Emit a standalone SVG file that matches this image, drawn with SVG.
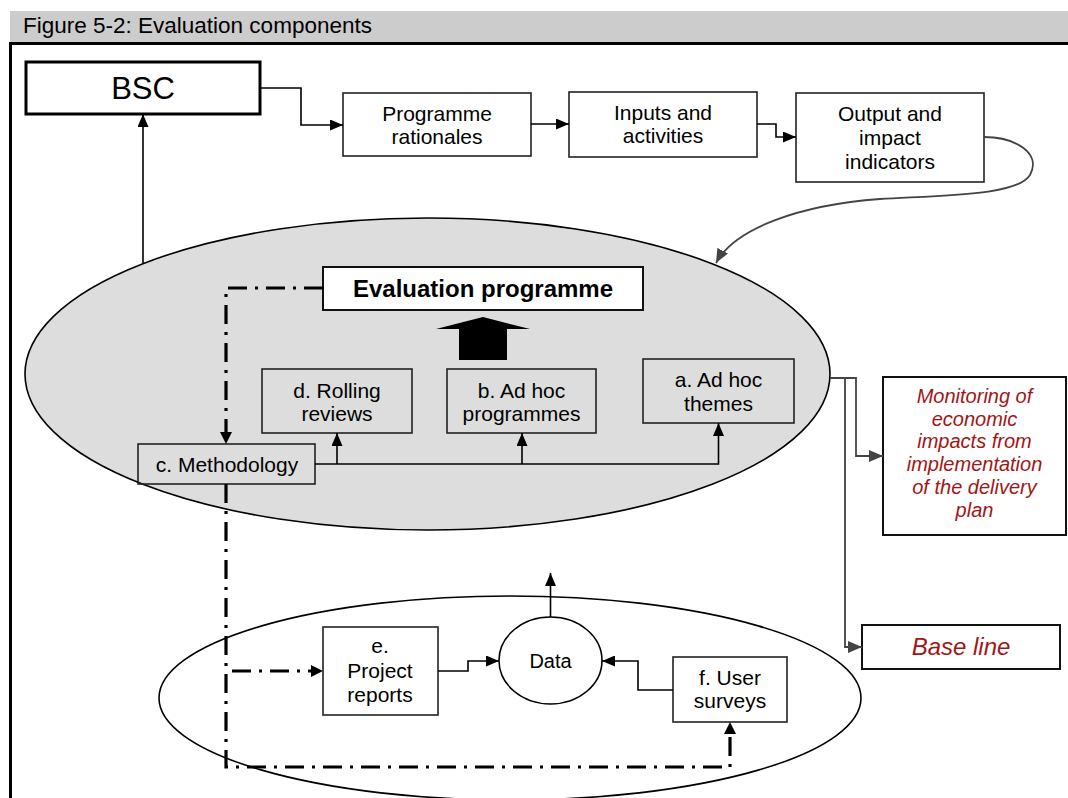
<svg xmlns="http://www.w3.org/2000/svg" width="1068" height="798" viewBox="0 0 1068 798">
<style>
text{font-family:"Liberation Sans",Arial,sans-serif;fill:#000}
.t21{font-size:21px;text-anchor:middle}
.red{fill:#a31515;font-style:italic;text-anchor:middle}
.box{fill:none;stroke:#222;stroke-width:1.6}
.wbox{fill:#fff;stroke:#111;stroke-width:2}
.ln{fill:none;stroke:#000;stroke-width:1.6}
.gl{fill:none;stroke:#444;stroke-width:1.8}
.dd{fill:none;stroke:#000;stroke-width:3.2;stroke-dasharray:19 8 3 8}
</style>
<defs>
<marker id="ah" viewBox="0 0 13 11" refX="13" refY="5.5" markerWidth="13" markerHeight="11" orient="auto" markerUnits="userSpaceOnUse"><path d="M0,0 L13,5.5 L0,11 z" fill="#000"/></marker>
<marker id="ag" viewBox="0 0 14 12" refX="14" refY="6" markerWidth="14" markerHeight="12" orient="auto" markerUnits="userSpaceOnUse"><path d="M0,0 L14,6 L0,12 z" fill="#444"/></marker>
</defs>

<g id="frame">
<rect x="10" y="11" width="1058" height="31" fill="#cccccc"/>
<text x="23" y="33" font-size="22.5">Figure 5-2: Evaluation components</text>
<line x1="9" y1="43.5" x2="1068" y2="43.5" stroke="#000" stroke-width="3"/>
<line x1="10.5" y1="43" x2="10.5" y2="798" stroke="#000" stroke-width="3"/>
</g>

<g id="eval-ellipse">
<ellipse cx="427.5" cy="374" rx="402.5" ry="156" fill="#dddddd" stroke="#000" stroke-width="1.6"/>
</g>
<g id="data-ellipse">
<ellipse cx="510" cy="698" rx="351" ry="102" fill="#fff" stroke="#000" stroke-width="1.6"/>
</g>

<g id="bsc">
<rect x="26" y="62" width="234" height="52" fill="#fff" stroke="#000" stroke-width="3"/>
<text x="143" y="99" font-size="31" text-anchor="middle">BSC</text>
</g>
<g id="programme-rationales">
<rect class="box" x="343" y="93" width="188" height="63" fill="#fff"/>
<text class="t21" x="437" y="121">Programme</text>
<text class="t21" x="437" y="144">rationales</text>
</g>
<g id="inputs">
<rect class="box" x="569" y="92" width="188" height="65"/>
<text class="t21" x="663" y="120">Inputs and</text>
<text class="t21" x="663" y="143">activities</text>
</g>
<g id="outputs">
<rect class="box" x="796" y="93" width="188" height="89"/>
<text class="t21" x="890" y="121">Output and</text>
<text class="t21" x="890" y="145">impact</text>
<text class="t21" x="890" y="169">indicators</text>
</g>

<g id="evaluation-programme">
<rect class="wbox" x="323" y="267" width="320" height="43"/>
<text x="483" y="297" font-size="24" font-weight="bold" text-anchor="middle">Evaluation programme</text>
</g>
<g id="block-arrow">
<polygon points="459,360 507,360 507,329 530,329 483,317 436,329 459,329" fill="#000"/>
</g>
<g id="rolling-reviews">
<rect class="box" x="262" y="369" width="150" height="64"/>
<text class="t21" x="337" y="398">d. Rolling</text>
<text class="t21" x="337" y="421">reviews</text>
</g>
<g id="adhoc-programmes">
<rect class="box" x="447" y="369" width="149" height="64"/>
<text class="t21" x="521.5" y="398">b. Ad hoc</text>
<text class="t21" x="521.5" y="421">programmes</text>
</g>
<g id="adhoc-themes">
<rect class="box" x="643" y="359" width="151" height="64"/>
<text class="t21" x="718.5" y="387">a. Ad hoc</text>
<text class="t21" x="718.5" y="411">themes</text>
</g>
<g id="methodology">
<rect class="box" x="138" y="444" width="177" height="40"/>
<text class="t21" x="227" y="472">c. Methodology</text>
</g>

<g id="monitoring">
<rect x="883" y="377" width="183" height="158" fill="#fff" stroke="#111" stroke-width="2"/>
<text class="red" font-size="20" x="974.5" y="403">Monitoring of</text>
<text class="red" font-size="20" x="974.5" y="425.7">economic</text>
<text class="red" font-size="20" x="974.5" y="448.4">impacts from</text>
<text class="red" font-size="20" x="974.5" y="471.1">implementation</text>
<text class="red" font-size="20" x="974.5" y="493.8">of the delivery</text>
<text class="red" font-size="20" x="974.5" y="516.5">plan</text>
</g>
<g id="baseline">
<rect x="862" y="625" width="198" height="44" fill="#fff" stroke="#111" stroke-width="2"/>
<text class="red" font-size="24" x="961" y="655">Base line</text>
</g>

<g id="project-reports">
<rect class="box" x="323" y="627" width="115" height="88" fill="#fff"/>
<text class="t21" x="380" y="653">e.</text>
<text class="t21" x="380" y="678">Project</text>
<text class="t21" x="380" y="702">reports</text>
</g>
<g id="data">
<ellipse cx="550.5" cy="660.5" rx="51.5" ry="43.5" fill="#fff" stroke="#000" stroke-width="1.6"/>
<text x="550.5" y="668" font-size="20" text-anchor="middle">Data</text>
</g>
<g id="user-surveys">
<rect class="box" x="673" y="657" width="114" height="65" fill="#fff"/>
<text class="t21" x="730" y="685">f. User</text>
<text class="t21" x="730" y="708">surveys</text>
</g>

<g id="connectors">
<path class="ln" d="M260,88 H301 V125 H343" marker-end="url(#ah)"/>
<path class="ln" d="M531,124 H569" marker-end="url(#ah)"/>
<path class="ln" d="M757,124 H776 V137 H796" marker-end="url(#ah)"/>
<path class="gl" d="M984,137 C1015,137 1042,153 1030,175 C1018,195 950,195 880,199 C800,205 735,228 716,263" marker-end="url(#ag)"/>
<path class="ln" d="M143,263 V114" marker-end="url(#ah)"/>
<path class="ln" d="M315,464 H718.5 V423" marker-end="url(#ah)"/>
<path class="ln" d="M337,464 V433" marker-end="url(#ah)"/>
<path class="ln" d="M522,464 V433" marker-end="url(#ah)"/>
<path class="gl" d="M830,378 H856 V456 H883" marker-end="url(#ag)"/>
<path class="gl" d="M845,378 V647 H862" marker-end="url(#ag)"/>
<path class="ln" d="M550.5,617 V573" marker-end="url(#ah)"/>
<path class="ln" d="M438,671 H468 V661 H499" marker-end="url(#ah)"/>
<path class="ln" d="M673,690 H638 V661 H602" marker-end="url(#ah)"/>
<path class="dd" d="M323,288 H226 V436"/>
<path d="M220,432 L232,432 L226,444 z" fill="#000"/>
<path class="dd" d="M226,484 V767 H730 V734"/>
<path d="M724,734 L736,734 L730,722 z" fill="#000"/>
<path class="dd" d="M232,671 H312"/>
<path d="M311,665 L323,671 L311,677 z" fill="#000"/>
</g>
</svg>
